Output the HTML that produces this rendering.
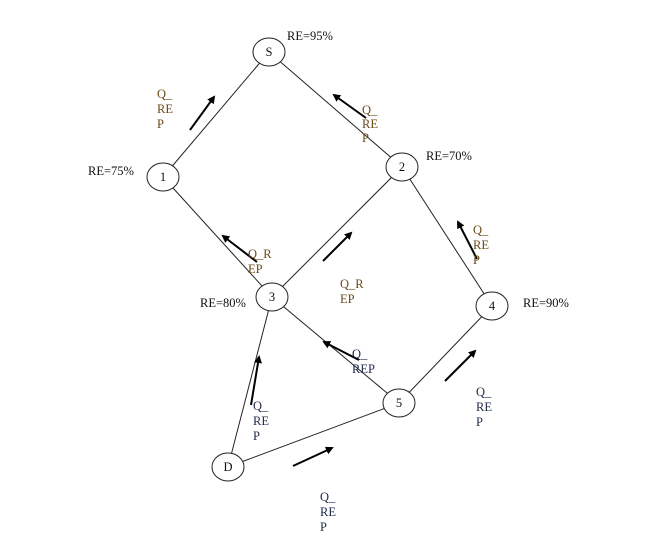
<!DOCTYPE html>
<html><head><meta charset="utf-8"><style>
html,body{margin:0;padding:0;background:#fff}
svg{display:block}
text{font-family:"Liberation Serif",serif;font-size:12.5px}
.o{fill:#6b4a1a}.b{fill:#1f2a4a}.k{fill:#111}
</style></head><body>
<svg width="665" height="540" viewBox="0 0 665 540" xmlns="http://www.w3.org/2000/svg">
<defs><marker id="a" markerWidth="8" markerHeight="8" refX="6" refY="4" orient="auto" markerUnits="userSpaceOnUse"><path d="M0,0 L8,4 L0,8 z" fill="#000"/></marker></defs>
<g stroke="#222" stroke-width="1" fill="none">
<line x1="269" y1="52" x2="163" y2="177"/>
<line x1="269" y1="52" x2="402" y2="167"/>
<line x1="163" y1="177" x2="272" y2="297"/>
<line x1="402" y1="167" x2="272" y2="297"/>
<line x1="402" y1="167" x2="492" y2="306"/>
<line x1="272" y1="297" x2="228" y2="467"/>
<line x1="272" y1="297" x2="399" y2="403"/>
<line x1="399" y1="403" x2="492" y2="306"/>
<line x1="228" y1="467" x2="399" y2="403"/>
</g>
<g fill="#fff" stroke="#222" stroke-width="1">
<ellipse cx="269" cy="52" rx="16" ry="14"/>
<ellipse cx="163" cy="177" rx="16" ry="14"/>
<ellipse cx="402" cy="167" rx="16" ry="14"/>
<ellipse cx="272" cy="297" rx="16" ry="14"/>
<ellipse cx="492" cy="306" rx="16" ry="14"/>
<ellipse cx="399" cy="403" rx="16" ry="14"/>
<ellipse cx="228" cy="467" rx="16" ry="14"/>
</g>
<g class="k" text-anchor="middle">
<text x="269" y="56">S</text><text x="163" y="181">1</text><text x="402" y="171">2</text>
<text x="272" y="301">3</text><text x="492" y="310">4</text><text x="399" y="407">5</text><text x="228" y="471">D</text>
</g>
<g stroke="#000" stroke-width="2" marker-end="url(#a)">
<line x1="190" y1="130" x2="214" y2="97"/>
<line x1="366" y1="118" x2="334" y2="95"/>
<line x1="257" y1="262" x2="223" y2="236"/>
<line x1="323" y1="261" x2="351" y2="233"/>
<line x1="477" y1="259" x2="458" y2="222"/>
<line x1="359" y1="360" x2="324" y2="342"/>
<line x1="251" y1="405" x2="259" y2="357"/>
<line x1="293" y1="466" x2="332" y2="448"/>
<line x1="445" y1="381" x2="475" y2="351"/>
</g>
<g class="k">
<text x="287" y="40">RE=95%</text><text x="426" y="160">RE=70%</text>
<text x="88" y="175">RE=75%</text><text x="200" y="307">RE=80%</text><text x="523" y="307">RE=90%</text>
</g>
<g class="o">
<text x="157" y="98">Q_</text><text x="157" y="113">RE</text><text x="157" y="128">P</text>
<text x="362" y="114">Q_</text><text x="362" y="128">RE</text><text x="362" y="142">P</text>
<text x="248" y="258">Q_R</text><text x="248" y="273">EP</text>
<text x="340" y="288">Q_R</text><text x="340" y="303">EP</text>
<text x="473" y="234">Q_</text><text x="473" y="249">RE</text><text x="473" y="264">P</text>
</g>
<g class="b">
<text x="352" y="358">Q_</text><text x="352" y="373">REP</text>
<text x="253" y="410">Q_</text><text x="253" y="425">RE</text><text x="253" y="440">P</text>
<text x="476" y="396">Q_</text><text x="476" y="411">RE</text><text x="476" y="426">P</text>
<text x="320" y="501">Q_</text><text x="320" y="516">RE</text><text x="320" y="531">P</text>
</g>
</svg>
</body></html>
